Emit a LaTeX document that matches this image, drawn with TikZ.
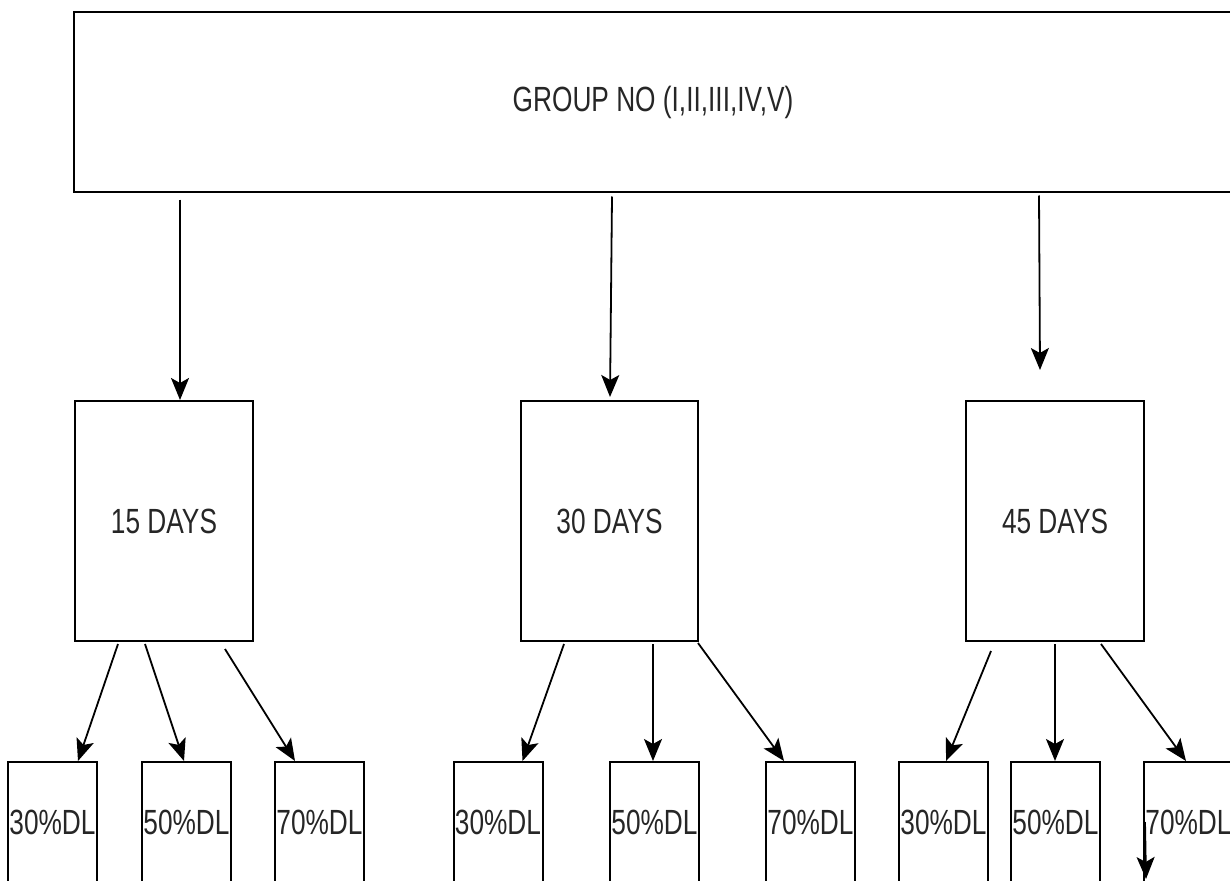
\documentclass[tikz,border=0pt]{standalone}
\usepackage{fontspec}
\setmainfont[FakeStretch=0.75]{Liberation Sans}
\usetikzlibrary{arrows.meta}
\begin{document}
\begin{tikzpicture}[x=1pt,y=-1pt,
  box/.style={draw=black,line width=2pt,fill=white,inner sep=0pt,
    font=\fontsize{35}{42}\selectfont,text=black!85},
  arr/.style={line width=1.8pt,-{Stealth[length=22pt,width=18pt,inset=5pt]}}]
\useasboundingbox (0,0) rectangle (1230,880);
\clip (0,0) rectangle (1230,880);
\fill[white] (0,0) rectangle (1230,880);
% top box
\node[box,minimum width=1158pt,minimum height=179pt] (group) at (653,102) {GROUP NO (I,II,III,IV,V)};
% day boxes
\node[box,minimum width=178pt,minimum height=240pt] (d15) at (164,521) {15 DAYS};
\node[box,minimum width=177pt,minimum height=240pt] (d30) at (609.5,521) {30 DAYS};
\node[box,minimum width=178pt,minimum height=240pt] (d45) at (1055,521) {45 DAYS};
% bottom boxes
\foreach \n/\x/\t in {b1/52.5/30, b2/186.5/50, b3/319.5/70,
                     b4/498/30, b5/654.5/50, b6/810.5/70,
                     b7/943.5/30, b8/1055.5/50, b9/1188.5/70}{
  \node[box,minimum width=89pt,minimum height=120pt] (\n) at (\x,822) {\t\%DL};
}
\coordinate (e45) at (1040,370);
\coordinate (e9) at (1146,879);
% top arrows
\draw[arr] ([xshift=107pt,yshift=-7pt]group.south west) -- ([xshift=106pt]d15.north west);
\draw[arr] ([xshift=539pt,yshift=-4pt]group.south west) -- ([xshift=90pt,yshift=3pt]d30.north west);
\draw[arr] ([xshift=966pt,yshift=-3pt]group.south west) -- (e45);
% 15 days arrows
\draw[arr] ([xshift=44pt,yshift=-2pt]d15.south west) -- ([xshift=71pt]b1.north west);
\draw[arr] ([xshift=71pt,yshift=-2pt]d15.south west) -- ([xshift=43pt]b2.north west);
\draw[arr] ([xshift=151pt,yshift=-7pt]d15.south west) -- ([xshift=21pt]b3.north west);
% 30 days arrows
\draw[arr] ([xshift=44pt,yshift=-2pt]d30.south west) -- ([xshift=70pt]b4.north west);
\draw[arr] ([xshift=133pt,yshift=-2pt]d30.south west) -- ([xshift=44pt]b5.north west);
\draw[arr] ([xshift=178pt,yshift=-1pt]d30.south west) -- ([xshift=19pt]b6.north west);
% 45 days arrows
\draw[arr] ([xshift=26pt,yshift=-9pt]d45.south west) -- ([xshift=48pt]b7.north west);
\draw[arr] ([xshift=90pt,yshift=-2pt]d45.south west) -- ([xshift=45pt]b8.north west);
\draw[arr] ([xshift=136pt,yshift=-2pt]d45.south west) -- ([xshift=43pt]b9.north west);
% arrow below 70%DL
\draw[arr] ([xshift=2pt]b9.west) -- (e9);
\end{tikzpicture}
\end{document}
